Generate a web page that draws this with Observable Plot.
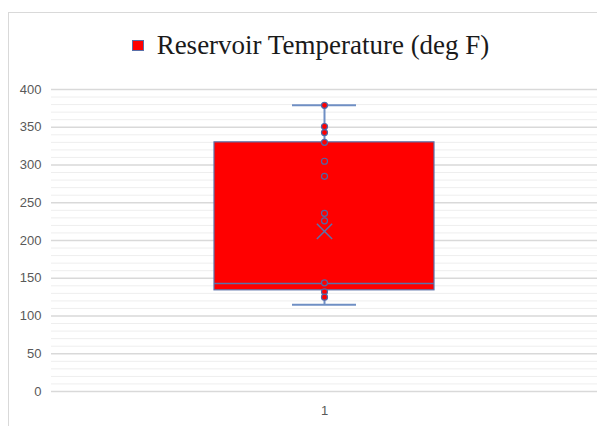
<!DOCTYPE html>
<html>
<head>
<meta charset="utf-8">
<script src="https://cdn.jsdelivr.net/npm/d3@7"></script>
<script src="https://cdn.jsdelivr.net/npm/@observablehq/plot@0.6"></script>
<style>
  html, body { margin: 0; padding: 0; background: #fff; }
  #chart { position: relative; width: 597px; height: 426px; overflow: hidden; }
  #frame { position: absolute; left: 8px; top: 12px; right: -2px; bottom: -2px;
           border-left: 1px solid #d9d9d9; border-top: 1px solid #d9d9d9; }
  #legend { position: absolute; left: 0; top: 30px; width: 597px;
            font-family: "Liberation Serif", "Times New Roman", serif; font-size: 27px; color: #1a1a1a;
            display: flex; justify-content: center; align-items: center; gap: 13px; padding-left: 24px; box-sizing: border-box; }
  #legend .swatch { width: 10px; height: 9px; background: #ff0000; border: 1px solid #5a6fa8; }
  #plot { position: absolute; left: 0; top: 0; }
</style>
</head>
<body>
<div id="chart">
  <div id="frame"></div>
  <div id="plot"></div>
  <div id="legend"><span class="swatch"></span><span>Reservoir Temperature (deg F)</span></div>
</div>
<script>
// Reservoir temperature survey, deg F
const category = ["1"];
const points = [379, 351, 343, 330, 305, 285, 236, 226, 144, 132, 125];
const whiskerLow = [115];
const whiskerHigh = [379];
const quartile1 = [134];
const median = [143];
const quartile3 = [330];
const mean = [212];
const yTicks = [0, 50, 100, 150, 200, 250, 300, 350, 400];

const box = category.map((c, i) => ({
  cat: c, lo: whiskerLow[i], hi: whiskerHigh[i], q1: quartile1[i],
  med: median[i], q3: quartile3[i], mean: mean[i]
}));
const pts = points.map(v => ({cat: category[0], v}));
const minorTicks = d3.range(0, 401, 10).filter(v => v % 50 !== 0);

const lineColor = "#6f8fc4";
const edgeColor = "#5a72aa";
const chart = Plot.plot({
  width: 597,
  height: 426,
  marginTop: 89,
  marginBottom: 35,
  marginLeft: 51,
  marginRight: 0,
  style: {fontFamily: "'Liberation Sans', Arial, sans-serif", fontSize: "13px", color: "#595959", background: "transparent"},
  x: {type: "band", domain: category, padding: 0.4255, label: null},
  y: {domain: [0, 400], label: null},
  marks: [
    Plot.ruleY(minorTicks, {stroke: "#eeeeee", strokeWidth: 1}),
    Plot.ruleY(yTicks, {stroke: "#d9d9d9", strokeWidth: 1.5}),
    Plot.axisY({ticks: yTicks, tickSize: 0, tickPadding: 10, fill: "#595959"}),
    Plot.axisX({tickSize: 0, tickPadding: 14, fill: "#595959"}),
    // whisker stems
    Plot.ruleX(box, {x: "cat", y1: "q3", y2: "hi", stroke: lineColor, strokeWidth: 2}),
    Plot.ruleX(box, {x: "cat", y1: "lo", y2: "q1", stroke: lineColor, strokeWidth: 2}),
    // whisker caps
    Plot.tickY(box, {x: "cat", y: "hi", insetLeft: 78, insetRight: 78, stroke: lineColor, strokeWidth: 2}),
    Plot.tickY(box, {x: "cat", y: "lo", insetLeft: 78, insetRight: 78, stroke: lineColor, strokeWidth: 2}),
    // interquartile box
    Plot.barY(box, {x: "cat", y1: "q1", y2: "q3", fill: "#ff0000", stroke: edgeColor, strokeWidth: 1.2}),
    Plot.tickY(box, {x: "cat", y: "med", stroke: edgeColor, strokeWidth: 1.5}),
    // individual readings
    Plot.dot(pts, {x: "cat", y: "v", r: 3, fill: "#ff0000", stroke: "#4f68a8", strokeWidth: 1.2}),
    // mean marker
    Plot.dot(box, {x: "cat", y: "mean", symbol: "times", r: 7, stroke: edgeColor, strokeWidth: 1.5})
  ]
});
document.getElementById("plot").appendChild(chart);
</script>
</body>
</html>
